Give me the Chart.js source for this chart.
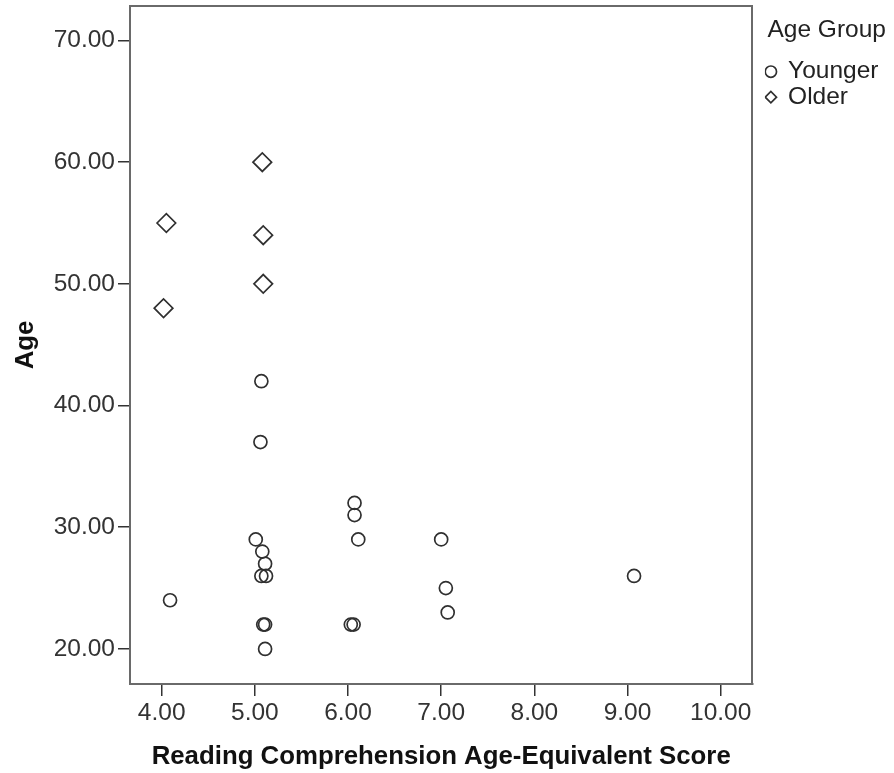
<!DOCTYPE html>
<html>
<head>
<meta charset="utf-8">
<script src="https://cdn.jsdelivr.net/npm/chart.js@4.4.1/dist/chart.umd.min.js"></script>
<style>
  body { margin: 0; background: #fff; }
  #wrap { width: 894px; height: 773px; }
</style>
</head>
<body>
<div id="wrap"><canvas id="scatterAge" width="894" height="773"></canvas></div>
<script>
// reading score (x) and age (y) per person
var youngerScore = [4.09, 5.07, 5.06, 5.01, 5.08, 5.11, 5.07, 5.12, 5.09, 5.11, 5.11, 6.07, 6.07, 6.11, 6.03, 6.06, 7.00, 7.05, 7.07, 9.07];
var youngerAge   = [24, 42, 37, 29, 28, 27, 26, 26, 22, 22, 20, 32, 31, 29, 22, 22, 29, 25, 23, 26];
var olderScore = [4.05, 4.02, 5.08, 5.09, 5.09];
var olderAge   = [55, 48, 60, 54, 50];

var groupLabels = ["Younger", "Older"];
var xTicks = [4, 5, 6, 7, 8, 9, 10];
var yTicks = [20, 30, 40, 50, 60, 70];

var frameColor = "#6a6a6a";
var markColor = "#303030";

function toPoints(xs, ys) {
    var pts = [];
    for (var i = 0; i < xs.length; i++) {
        pts.push({x: xs[i], y: ys[i]});
    }
    return pts;
}

function fixedTicks(list) {
    return function (scale) {
        scale.ticks = list.map(function (v) { return {value: v}; });
    };
}

var frameOnly = {
    display: true,
    ticks: {display: false},
    grid: {display: false, drawTicks: false},
    border: {display: true, color: frameColor, width: 2}
};

new Chart(document.getElementById("scatterAge").getContext("2d"), {
    type: "scatter",
    data: {
        datasets: [
            {
                label: groupLabels[0],
                data: toPoints(youngerScore, youngerAge),
                pointStyle: "circle",
                pointRadius: 6.5,
                pointHoverRadius: 6.5,
                borderWidth: 1.7,
                borderColor: markColor,
                backgroundColor: "rgba(0,0,0,0)"
            },
            {
                label: groupLabels[1],
                data: toPoints(olderScore, olderAge),
                pointStyle: "rectRot",
                pointRadius: 9.3,
                pointHoverRadius: 9.3,
                borderWidth: 1.7,
                borderColor: markColor,
                backgroundColor: "rgba(0,0,0,0)"
            }
        ]
    },
    options: {
        responsive: false,
        animation: false,
        layout: {autoPadding: false, padding: {top: 0, left: 0, bottom: 0, right: 5.5}},
        plugins: {
            tooltip: {enabled: false},
            legend: {
                position: "right",
                align: "start",
                title: {
                    display: true,
                    text: "Age Group",
                    position: "center",
                    color: "#222",
                    font: {family: "'Liberation Sans', Arial", size: 24.5},
                    padding: {top: 18, bottom: 11}
                },
                labels: {
                    usePointStyle: true,
                    boxWidth: 10,
                    boxHeight: 8,
                    padding: 1,
                    color: "#222",
                    font: {family: "'Liberation Sans', Arial", size: 24.5}
                }
            }
        },
        scales: {
            x: {
                type: "linear",
                position: "bottom",
                min: 3.66,
                max: 10.34,
                afterBuildTicks: fixedTicks(xTicks),
                afterFit: function (s) { s.height = 89; s.paddingLeft = 0; s.paddingRight = 0; },
                ticks: {
                    padding: 3,
                    color: "#333",
                    font: {family: "'Liberation Sans', Arial", size: 24.5},
                    callback: function (v) { return Number(v).toFixed(2); }
                },
                grid: {drawOnChartArea: false, color: "#333", lineWidth: 1.5, tickLength: 12},
                border: {color: frameColor, width: 2},
                title: {
                    display: true,
                    text: "Reading Comprehension Age-Equivalent Score",
                    color: "#111",
                    font: {family: "'Liberation Sans', Arial", size: 25.8, weight: "bold"},
                    padding: {top: 0, bottom: 1}
                }
            },
            y: {
                type: "linear",
                position: "left",
                min: 17.12,
                max: 72.83,
                afterBuildTicks: fixedTicks(yTicks),
                afterFit: function (s) { s.width = 130; s.paddingTop = 0; s.paddingBottom = 0; },
                ticks: {
                    padding: 3,
                    color: "#333",
                    font: {family: "'Liberation Sans', Arial", size: 24.5},
                    callback: function (v) { return Number(v).toFixed(2); }
                },
                grid: {drawOnChartArea: false, color: "#333", lineWidth: 1.5, tickLength: 12},
                border: {color: frameColor, width: 2},
                title: {
                    display: true,
                    text: "Age",
                    color: "#111",
                    font: {family: "'Liberation Sans', Arial", size: 25.8, weight: "bold"},
                    padding: {top: 10, bottom: 0}
                }
            },
            xTop: Object.assign({}, frameOnly, {
                type: "linear",
                position: "top",
                afterFit: function (s) { s.height = 6; s.paddingLeft = 0; s.paddingRight = 0; }
            }),
            yRight: Object.assign({}, frameOnly, {
                type: "linear",
                position: "right",
                afterFit: function (s) { s.width = 12.5; s.paddingTop = 0; s.paddingBottom = 0; }
            })
        }
    }
});
</script>
</body>
</html>
